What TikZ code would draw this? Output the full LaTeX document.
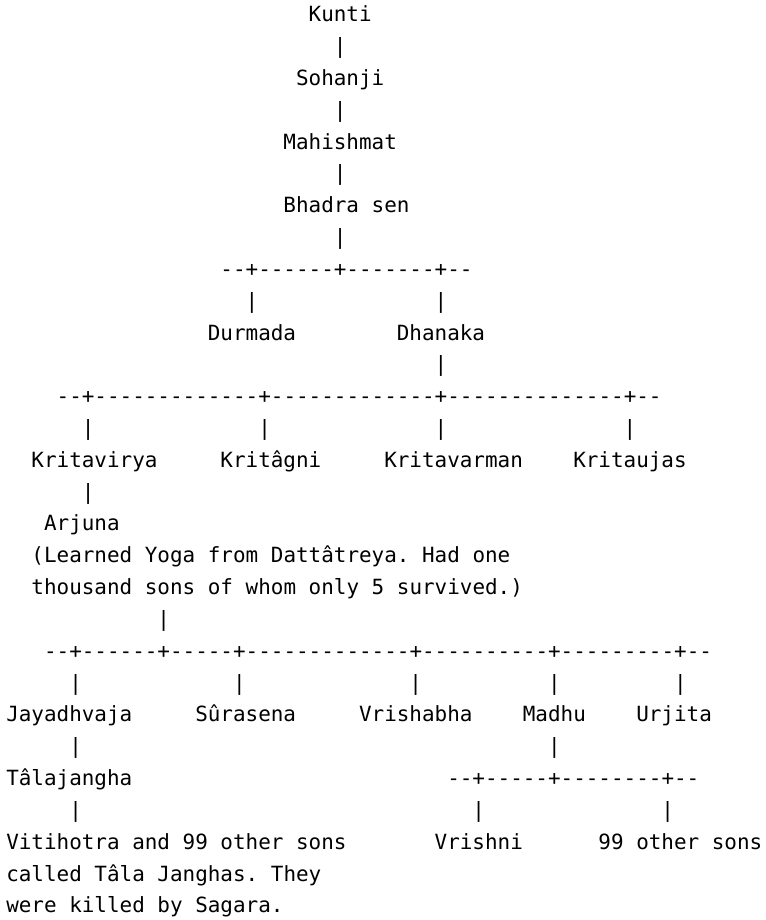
\documentclass[tikz,border=0pt]{standalone}
\usepackage{fontspec}
\setmonofont{DejaVu Sans Mono}
\usepackage{tikz}

\tikzset{
  person/.style={anchor=base west, inner sep=0pt, font=\ttfamily\frenchspacing\fontsize{15.7}{18}\selectfont},
  link/.style={person}
}

\begin{document}
\begin{tikzpicture}[x=9.45pt, y=-23.87pt]
\useasboundingbox (-4.5pt,16.3pt) rectangle (570pt,-673.7pt);
% Kunti down to Bhadra sen
\node[person] (kunti) at (24,0) {Kunti};
\node[link] (l1) at (26,1) {|};
\node[person] (sohanji) at (23,2) {Sohanji};
\node[link] (l2) at (26,3) {|};
\node[person] (mahishmat) at (22,4) {Mahishmat};
\node[link] (l3) at (26,5) {|};
\node[person] (bhadrasen) at (22,6) {Bhadra sen};
\node[link] (l4) at (26,7) {|};
% sons of Bhadra sen
\node[link] (rail1) at (17,8) {--+------+-------+--};
\node[link] (l5) at (19,9) {|};
\node[link] (l6) at (34,9) {|};
\node[person] (durmada) at (16,10) {Durmada};
\node[person] (dhanaka) at (31,10) {Dhanaka};
\node[link] (l7) at (34,11) {|};
% sons of Dhanaka
\node[link] (rail2) at (4,12) {--+-------------+-------------+--------------+--};
\node[link] (l8) at (6,13) {|};
\node[link] (l9) at (20,13) {|};
\node[link] (l10) at (34,13) {|};
\node[link] (l11) at (49,13) {|};
\node[person] (kritavirya) at (2,14) {Kritavirya};
\node[person] (kritagni) at (17,14) {Kritâgni};
\node[person] (kritavarman) at (30,14) {Kritavarman};
\node[person] (kritaujas) at (45,14) {Kritaujas};
\node[link] (l12) at (6,15) {|};
\node[person] (arjuna) at (3,16) {Arjuna};
\node[person] (arjunanote1) at (2,17) {(Learned Yoga from Dattâtreya. Had one};
\node[person] (arjunanote2) at (2,18) {thousand sons of whom only 5 survived.)};
\node[link] (l13) at (12,19) {|};
% sons of Arjuna
\node[link] (rail3) at (3,20) {--+------+-----+-------------+----------+---------+--};
\node[link] (l14) at (5,21) {|};
\node[link] (l15) at (18,21) {|};
\node[link] (l16) at (32,21) {|};
\node[link] (l17) at (43,21) {|};
\node[link] (l18) at (53,21) {|};
\node[person] (jayadhvaja) at (0,22) {Jayadhvaja};
\node[person] (surasena) at (15,22) {Sûrasena};
\node[person] (vrishabha) at (28,22) {Vrishabha};
\node[person] (madhu) at (41,22) {Madhu};
\node[person] (urjita) at (50,22) {Urjita};
\node[link] (l19) at (5,23) {|};
\node[link] (l20) at (43,23) {|};
\node[person] (talajangha) at (0,24) {Tâlajangha};
% sons of Madhu
\node[link] (rail4) at (35,24) {--+-----+--------+--};
\node[link] (l21) at (5,25) {|};
\node[link] (l22) at (37,25) {|};
\node[link] (l23) at (52,25) {|};
\node[person] (vitihotra1) at (0,26) {Vitihotra and 99 other sons};
\node[person] (vitihotra2) at (0,27) {called Tâla Janghas. They};
\node[person] (vitihotra3) at (0,28) {were killed by Sagara.};
\node[person] (vrishni) at (34,26) {Vrishni};
\node[person] (othersons) at (47,26) {99 other sons};
\end{tikzpicture}
\end{document}
